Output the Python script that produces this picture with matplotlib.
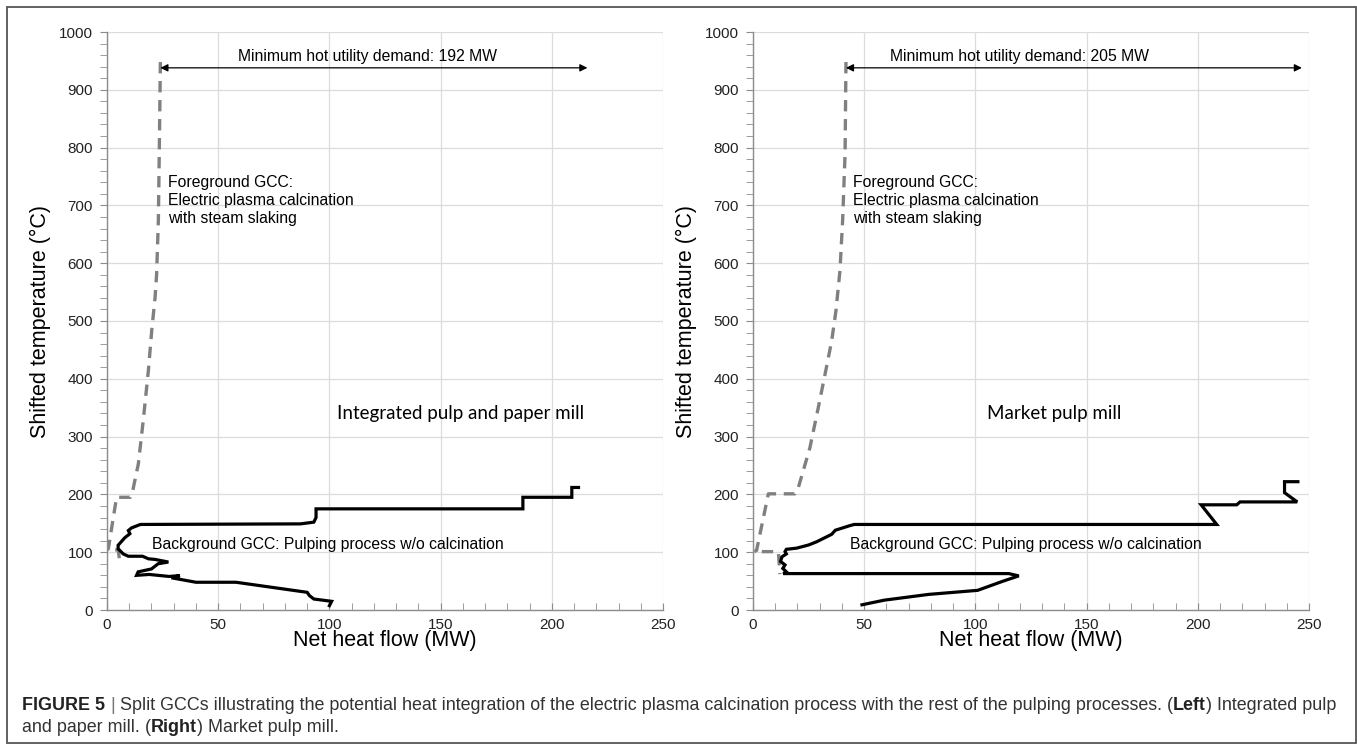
import matplotlib
matplotlib.use("Agg")
import matplotlib.pyplot as plt
from matplotlib.ticker import MultipleLocator
from matplotlib.transforms import IdentityTransform
from matplotlib.patches import Rectangle
from matplotlib import font_manager

# ---- data ----
# left: integrated pulp and paper mill
bg_left_x = [212, 209, 209, 187, 187, 94, 94, 93, 87, 15, 11, 9.6, 10.3, 8, 5, 5, 7.3, 9.6, 16, 18.6,
             21.6, 27.6, 23, 20, 14, 13.3, 19, 28, 32.8, 29, 40, 58, 90, 91, 93, 101, 100]
bg_left_y = [212, 212, 195, 195, 175, 175, 160, 152, 149, 148, 142, 137.5, 132, 125, 112, 106, 97, 93, 93, 88.6,
             87.5, 83, 80, 71, 66, 60, 61.5, 58, 59.6, 55.7, 48, 48, 30.6, 25, 19, 15, 7.5]
fg_left_x = [24, 23.5, 23.1, 22.3, 21.6, 20.1, 18.6, 16.3, 14.1, 11.5, 10.5, 4.3, 0.6, 0, 5, 5.8]
fg_left_y = [948, 790, 675, 580, 540, 483, 414, 328, 253, 205, 195, 195, 106, 104, 104, 83]

# right: market pulp mill
bg_right_x = [245, 239, 239, 244.7, 219, 217.5, 201.5, 208.5, 45.5, 43.6, 37, 35.4, 28.6, 25, 19.6, 15,
              14.4, 15, 13, 12.4, 14.4, 13.4, 15, 13.6, 115, 119.5, 112.5, 101, 79, 59, 49]
bg_right_y = [222, 222, 203, 187, 187, 182, 182, 148, 148, 146, 138, 131, 118, 112.5, 107, 105,
              101, 97, 92, 84, 78, 72, 66, 63, 63, 59, 50, 34, 27, 17, 9]
fg_right_x = [41.8, 41.4, 40.3, 39.1, 37.3, 35.4, 32.4, 29.4, 25.6, 22.6, 20.4, 18.9, 6.9, 1.6, 0.5, 11.4, 12.1]
fg_right_y = [948, 789, 674, 587, 518, 466, 408, 351, 281, 241, 212, 201, 201, 103, 101, 101, 62]

hot_utility = [192, 205]
mill_names = ["Integrated pulp and paper mill", "Market pulp mill"]

fg_text = "Foreground GCC:\nElectric plasma calcination\nwith steam slaking"
bg_text = "Background GCC: Pulping process w/o calcination"

plt.rcParams["font.family"] = ["Liberation Sans", "DejaVu Sans"]

W, H = 1357, 744
fig = plt.figure(figsize=(W / 100, H / 100), dpi=100)
fig.patch.set_facecolor("white")


def px_axes(x0, x1, ytop, ybot):
    return fig.add_axes([x0 / W, (H - ybot) / H, (x1 - x0) / W, (ybot - ytop) / H])


ax_l = px_axes(107, 663, 32, 610)
ax_r = px_axes(753, 1309, 32, 610)

panels = [
    (ax_l, bg_left_x, bg_left_y, fg_left_x, fg_left_y, hot_utility[0], mill_names[0], 117, 103.5, 20.3, 27.6),
    (ax_r, bg_right_x, bg_right_y, fg_right_x, fg_right_y, hot_utility[1], mill_names[1], 120, 105, 43.7, 44.8),
]

for ax, bx, by, fx, fy, hu, mill, txt_c, mill_x, bg_tx, fg_tx in panels:
    ax.set_xlim(0, 250)
    ax.set_ylim(0, 1000)
    ax.xaxis.set_major_locator(MultipleLocator(50))
    ax.xaxis.set_minor_locator(MultipleLocator(10))
    ax.yaxis.set_major_locator(MultipleLocator(100))
    ax.yaxis.set_minor_locator(MultipleLocator(20))
    ax.grid(True, which="major", color="#dcdcdc", lw=0.9)
    ax.set_axisbelow(True)
    for s in ["top", "right"]:
        ax.spines[s].set_visible(False)
    for s in ["left", "bottom"]:
        ax.spines[s].set_color("#8c8c8c")
        ax.spines[s].set_linewidth(1.0)
    ax.tick_params(axis="y", which="both", direction="out", length=5, color="#8c8c8c",
                   labelsize=11, labelcolor="#222222", pad=5)
    ax.tick_params(axis="x", which="both", direction="in", length=5, color="#8c8c8c",
                   labelsize=11, labelcolor="#222222", pad=6)
    ax.set_xlabel("Net heat flow (MW)", fontsize=15.5, labelpad=-2)
    ax.set_ylabel("Shifted temperature (°C)", fontsize=15.5, labelpad=6)

    ax.plot(fx, fy, color="#808080", lw=2.4, dashes=(3.4, 2.3), dash_capstyle="butt")
    ax.plot(bx, by, color="black", lw=2.3, solid_joinstyle="miter")

    x0 = fx[0]
    ax.annotate("", xy=(x0 + hu, 938), xytext=(x0, 938),
                arrowprops=dict(arrowstyle="<|-|>", color="black", lw=0.9,
                                mutation_scale=11, shrinkA=0, shrinkB=0))
    ax.text(txt_c, 957, "Minimum hot utility demand: %d MW" % hu, fontsize=11.3,
            ha="center", va="center")
    ax.text(fg_tx, 709, fg_text, fontsize=11.3, ha="left", va="center", linespacing=1.25)
    ax.text(bg_tx, 113, bg_text, fontsize=11.3, ha="left", va="center")
    ax.text(mill_x, 340, mill, fontsize=13.5, family="Lato", ha="left", va="center")

# ---- caption ----
names = {f.name for f in font_manager.fontManager.ttflist}
cap_family = "Liberation Sans Narrow" if "Liberation Sans Narrow" in names else "Liberation Sans"
renderer = fig.canvas.get_renderer()

line1 = [("FIGURE 5", "bold", "#222222"), ("|", "normal", "#777777"),
         ("Split GCCs illustrating the potential heat integration of the electric plasma calcination "
          "process with the rest of the pulping processes.", "normal", "#333333"),
         ("(", "normal", "#333333"), ("Left", "bold", "#222222"), (")", "normal", "#333333"),
         ("Integrated pulp", "normal", "#333333")]
glue1 = [True, True, True, False, False, True]
line2 = [("and paper mill.", "normal", "#333333"), ("(", "normal", "#333333"),
         ("Right", "bold", "#222222"), (")", "normal", "#333333"),
         ("Market pulp mill.", "normal", "#333333")]
glue2 = [True, False, False, True]


def draw_line(runs, spaces, x, y, size):
    arts = []
    probe = fig.text(0, 0, "a a", fontsize=size, family=cap_family, transform=IdentityTransform())
    probe2 = fig.text(0, 0, "aa", fontsize=size, family=cap_family, transform=IdentityTransform())
    sp = probe.get_window_extent(renderer).width - probe2.get_window_extent(renderer).width
    probe.remove()
    probe2.remove()
    for i, (s, w, c) in enumerate(runs):
        t = fig.text(x, y, s, fontsize=size, fontweight=w, color=c, family=cap_family,
                     transform=IdentityTransform(), va="center", ha="left")
        arts.append(t)
        x += t.get_window_extent(renderer).width
        if i < len(spaces) and spaces[i]:
            x += sp
    return arts, x


arts, xe = draw_line(line1, glue1, 22, H - 706, 12)
size = 12 * (1338 - 22) / (xe - 22)
for a in arts:
    a.remove()
draw_line(line1, glue1, 22, H - 706, size)
draw_line(line2, glue2, 22, H - 728, size)

# frame around the figure
fig.patches.append(Rectangle((7, 1), 1349, 736, transform=IdentityTransform(), fill=False,
                             edgecolor="#555555", lw=1.3))

fig.savefig("out.png", dpi=100)
